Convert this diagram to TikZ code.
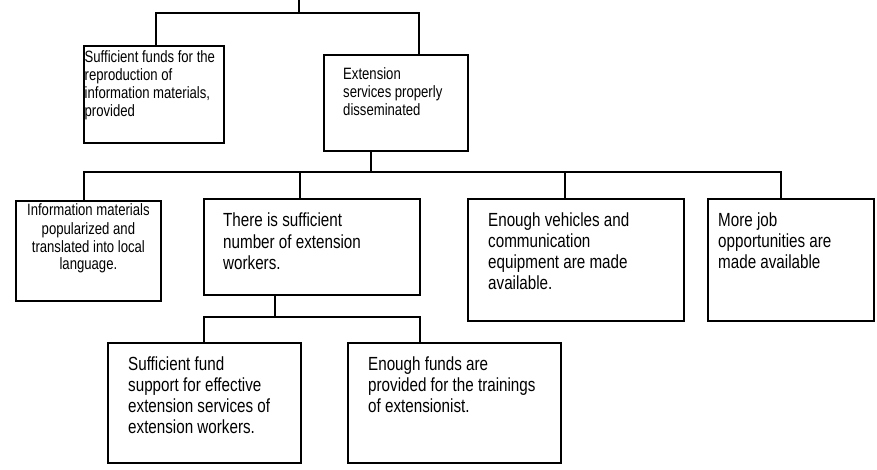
\documentclass[tikz,border=0pt]{standalone}
\usepackage{fontspec}
\newfontfamily\diagfont[FakeStretch=0.8]{Liberation Sans}
\newcommand{\smalltext}{\diagfont\fontsize{16.4}{18}\selectfont}
\newcommand{\largetext}{\diagfont\fontsize{19}{21.3}\selectfont}
\tikzset{
  box/.style={draw, line width=1.8pt, inner sep=0pt, anchor=north west},
  wire/.style={line width=1.7pt},
  smalllabel/.style={inner sep=0pt, font=\smalltext},
  largelabel/.style={inner sep=0pt, font=\largetext},
}
\begin{document}
\begin{tikzpicture}[x=1pt, y=-1pt]
\useasboundingbox (0,0) rectangle (877,470);

% boxes
\node[box, minimum width=140, minimum height=97]  (A) at (83,45)  {};
\node[box, minimum width=144, minimum height=96]  (B) at (323,54) {};
\node[box, minimum width=145, minimum height=100] (C) at (15,200) {};
\node[box, minimum width=216, minimum height=96]  (D) at (203,198) {};
\node[box, minimum width=216, minimum height=122] (E) at (467,198) {};
\node[box, minimum width=166, minimum height=122] (F) at (707,198) {};
\node[box, minimum width=193, minimum height=120] (G) at (107,342) {};
\node[box, minimum width=213, minimum height=120] (H) at (347,342) {};

% box texts
\node[smalllabel, anchor=base west] (At) at ([shift={(1.5,18)}]A.north west)
  {\parbox[t]{138pt}{Sufficient funds for the\\reproduction of\\information materials,\\provided}};
\node[smalllabel, anchor=base west] (Bt) at ([shift={(20,26)}]B.north west)
  {\parbox[t]{120pt}{Extension\\services properly\\disseminated}};
\node[smalllabel, anchor=base] (Ct) at ([shift={(0,16)}]C.north)
  {\parbox[t]{140pt}{\centering Information materials\\popularized and\\translated into local\\language.}};
\node[largelabel, anchor=base west] (Dt) at ([shift={(20,29)}]D.north west)
  {\parbox[t]{190pt}{There is sufficient\\number of extension\\workers.}};
\node[largelabel, anchor=base west] (Et) at ([shift={(21,28)}]E.north west)
  {\parbox[t]{190pt}{Enough vehicles and\\communication\\equipment are made\\available.}};
\node[largelabel, anchor=base west] (Ft) at ([shift={(11,28)}]F.north west)
  {\parbox[t]{150pt}{More job\\opportunities are\\made available}};
\node[largelabel, anchor=base west] (Gt) at ([shift={(21,28)}]G.north west)
  {\parbox[t]{170pt}{Sufficient fund\\support for effective\\extension services of\\extension workers.}};
\node[largelabel, anchor=base west] (Ht) at ([shift={(21,28)}]H.north west)
  {\parbox[t]{190pt}{Enough funds are\\provided for the trainings\\of extensionist.}};

% junction points of the connector bars
\coordinate (root) at (299,-2);
\coordinate (bus1) at (299,13);
\coordinate (bus2) at (371,172);
\coordinate (bus3) at (275,317);

% first level
\draw[wire] (root) -- (bus1);
\draw[wire] (bus1) -| ([xshift=2]A.north);
\draw[wire] (bus1) -| ([xshift=23]B.north);

% second level
\draw[wire] (B.south -| bus2) -- (bus2);
\draw[wire] (bus2) -| ([xshift=-4.5]C.north);
\draw[wire] (bus2) -| ([xshift=-12]D.north);
\draw[wire] (bus2) -| ([xshift=-11]E.north);
\draw[wire] (bus2) -| ([xshift=-10]F.north);

% third level
\draw[wire] (D.south -| bus3) -- (bus3);
\draw[wire] (bus3) -| ([xshift=-0.5]G.north);
\draw[wire] (bus3) -| ([xshift=-34.5]H.north);
\end{tikzpicture}
\end{document}
